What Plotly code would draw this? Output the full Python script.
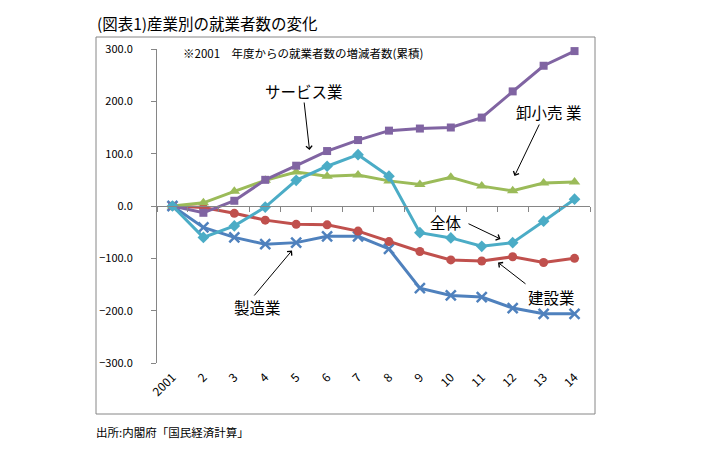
import plotly.graph_objects as go

years = ["2001", "2", "3", "4", "5", "6", "7", "8", "9", "10", "11", "12", "13", "14"]
manufacturing = [0, -41, -60, -73, -70, -58, -58, -82, -157, -171, -174, -195, -206, -206]
construction = [0, -3, -14, -27, -35, -36, -48, -68, -87, -103, -105, -97, -108, -100]
wholesale = [0, 6, 28, 49, 65, 57, 59, 48, 41, 55, 38, 29, 44, 46]
services = [0, -13, 10, 50, 77, 105, 126, 144, 148, 150, 169, 219, 268, 296]
total = [0, -60, -38, -2, 49, 76, 98, 57, -51, -61, -77, -70, -29, 13]

FONT = "Noto Sans CJK JP"
GRAY = "#868686"

# plot area in pixels (for paper-coordinate placement of annotations)
L, R, T, B = 157, 590, 49, 363
def px(x):
    return (x - L) / (R - L)
def py(y):
    return (B - y) / (B - T)

fig = go.Figure()

def add(name, vals, color, symbol, size, xaxis="x", mline=None):
    marker = dict(symbol=symbol, size=size, color=color)
    if mline:
        marker["line"] = dict(width=mline, color=color)
    fig.add_trace(go.Scatter(x=years, y=vals, name=name, mode="lines+markers",
                             line=dict(color=color, width=3), marker=marker,
                             xaxis=xaxis, showlegend=False, cliponaxis=False))

add("製造業", manufacturing, "#4F81BD", "x-thin", 10, mline=2.5)
add("建設業", construction, "#C0504D", "circle", 9)
add("卸小売業", wholesale, "#9BBB59", "triangle-up", 10)
add("サービス業", services, "#8064A2", "square", 8)
add("全体", total, "#4BACC6", "diamond", 9, xaxis="x2")

fig.update_layout(
    width=701, height=469,
    margin=dict(l=L, r=701 - R, t=T, b=469 - B),
    paper_bgcolor="white", plot_bgcolor="white",
    font=dict(family=FONT, color="black"),
    xaxis=dict(type="category", range=[-0.5, 13.5], showline=False, ticks="",
               showgrid=False, zeroline=False, tickangle=-45,
               tickfont=dict(size=12, family=FONT), ticklabelstandoff=4),
    xaxis2=dict(type="category", range=[-0.5, 13.5], overlaying="x", anchor="free",
                position=0.5, showline=True, linecolor=GRAY, linewidth=1,
                ticks="outside", ticklen=5, tickcolor=GRAY, tickson="boundaries",
                showticklabels=False, showgrid=False, zeroline=False),
    yaxis=dict(range=[-300, 300], dtick=100, tickformat=".1f", showline=True,
               linecolor=GRAY, linewidth=1, ticks="outside", ticklen=5,
               tickcolor=GRAY, showgrid=False, zeroline=False,
               tickfont=dict(size=11, family=FONT), ticklabelstandoff=16),
)

# outer frame
fig.add_shape(type="rect", xref="paper", yref="paper",
              x0=px(96), x1=px(595), y0=py(414), y1=py(37),
              line=dict(color=GRAY, width=1), fillcolor="rgba(0,0,0,0)")

ann = []
ann.append(dict(text="(図表1)産業別の就業者数の変化", x=px(95), y=py(23), xanchor="left",
                yanchor="middle", font=dict(size=15.5)))
ann.append(dict(text="出所:内閣府「国民経済計算」", x=px(94), y=py(432), xanchor="left",
                yanchor="middle", font=dict(size=11.5)))
ann.append(dict(text="※2001　年度からの就業者数の増減者数(累積)", x=px(181), y=py(53),
                xanchor="left", yanchor="middle", font=dict(size=11.5)))

labels = [("サービス業", 303.5, 91), ("卸小売 業", 548, 112), ("全体", 446, 222),
          ("建設業", 551, 297), ("製造業", 257.5, 307)]
for t, x, y in labels:
    ann.append(dict(text=t, x=px(x), y=py(y), xanchor="center", yanchor="middle",
                    font=dict(size=15.5)))

arrows = [((304, 101), (309.5, 150)), ((540, 123), (514.5, 176)),
          ((467, 223), (500.5, 239)), ((527, 285), (498, 262.5)),
          ((253, 297), (292, 250.5))]
for (tx, ty), (hx, hy) in arrows:
    ann.append(dict(text="", x=px(hx), y=py(hy), ax=tx - hx, ay=ty - hy,
                    showarrow=True, arrowhead=4, arrowsize=1.2, arrowwidth=1,
                    arrowcolor="black"))

for a in ann:
    a.setdefault("showarrow", False)
    a["xref"] = "paper"
    a["yref"] = "paper"
fig.update_layout(annotations=ann)

fig.write_html("out.html", config={"displayModeBar": False},
               post_script="document.body.style.margin='0';document.body.style.overflow='hidden';")
